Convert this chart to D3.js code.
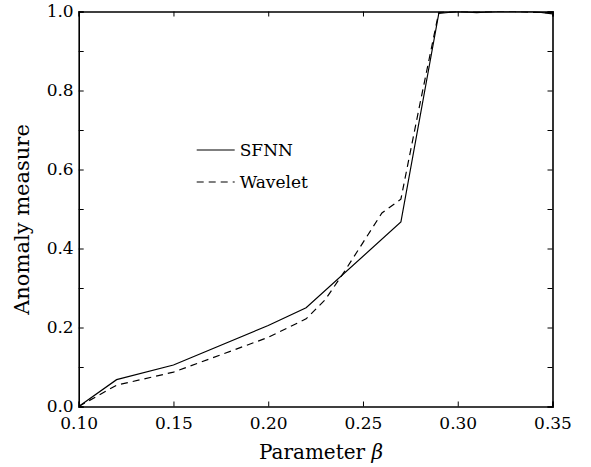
<!DOCTYPE html>
<html>
<head>
<meta charset="utf-8">
<script src="https://cdn.jsdelivr.net/npm/d3@7"></script>
<style>
  body { margin: 0; background: #fff; }
  text { font-family: "DejaVu Serif", serif; fill: #000; }
</style>
</head>
<body>
<div id="chart"></div>
<script>
// beta values and the two curves
var betaSFNN = [0.10, 0.12, 0.15, 0.20, 0.22, 0.27, 0.29, 0.30, 0.31, 0.32, 0.33, 0.34, 0.35];
var sfnn = [0.0, 0.068, 0.105, 0.205, 0.25, 0.467, 0.995, 1.0, 0.997, 1.0, 1.0, 1.0, 0.994];
var betaWavelet = [0.10, 0.12, 0.15, 0.20, 0.22, 0.23, 0.24, 0.25, 0.26, 0.27, 0.28, 0.29, 0.30, 0.31, 0.32, 0.33, 0.34, 0.35];
var wavelet = [0.0, 0.054, 0.087, 0.175, 0.222, 0.27, 0.34, 0.415, 0.49, 0.525, 0.765, 0.998, 1.0, 0.999, 1.0, 1.0, 0.998, 0.997];
var xTicks = [0.10, 0.15, 0.20, 0.25, 0.30, 0.35];
var yTicks = [0.0, 0.1, 0.2, 0.3, 0.4, 0.5, 0.6, 0.7, 0.8, 0.9, 1.0];
var legendNames = ["SFNN", "Wavelet"];

var margin = { top: 11.5, right: 38.5, bottom: 60.5, left: 78.7 },
  width = 591 - margin.left - margin.right,
  height = 467 - margin.top - margin.bottom;

var svg = d3
  .select("#chart")
  .append("svg")
  .attr("width", 591)
  .attr("height", 467)
  .append("g")
  .attr("transform", "translate(" + margin.left + "," + margin.top + ")");

var x = d3.scaleLinear().domain([0.10, 0.35]).range([0, width]);
var y = d3.scaleLinear().domain([0, 1]).range([height, 0]);

// ticks point inwards on all four sides
svg
  .append("g")
  .attr("transform", "translate(0," + height + ")")
  .attr("class", "x axis")
  .call(d3.axisBottom(x).tickValues(xTicks).tickSize(-5).tickPadding(10).tickFormat(d3.format(".2f")));
svg
  .append("g")
  .attr("class", "x axis top")
  .call(d3.axisTop(x).tickValues(xTicks).tickSize(-5).tickFormat(""));
svg
  .append("g")
  .attr("class", "y axis")
  .call(
    d3.axisLeft(y).tickValues(yTicks).tickSize(-5).tickPadding(5)
      .tickFormat(function (d) {
        return Math.round(d * 10) % 2 === 0 ? d3.format(".1f")(d) : "";
      })
  );
svg
  .append("g")
  .attr("class", "y axis right")
  .attr("transform", "translate(" + width + ",0)")
  .call(d3.axisRight(y).tickValues(yTicks).tickSize(-5).tickFormat(""));

svg.selectAll(".axis path").attr("stroke", "#000").attr("stroke-width", 1.6);
svg.selectAll(".axis line").attr("stroke", "#000").attr("stroke-width", 1);
svg.selectAll(".axis text").style("font-size", "17px").attr("fill", "#000");

// axis labels
svg
  .append("text")
  .attr("transform", "rotate(-90)")
  .attr("x", -208)
  .attr("y", -50)
  .style("text-anchor", "middle")
  .style("font-size", "21px")
  .text("Anomaly measure");

var xl = svg
  .append("text")
  .attr("x", 321 - margin.left)
  .attr("y", height + 52.5)
  .style("text-anchor", "middle")
  .style("font-size", "20px");
xl.append("tspan").text("Parameter ");
xl.append("tspan").style("font-style", "italic").text("\u03b2");

// curves
var line = d3
  .line()
  .x(function (d) { return x(d[0]); })
  .y(function (d) { return y(d[1]); });

svg.append("clipPath").attr("id", "clip").append("rect")
  .attr("width", width).attr("height", height);

var glines = svg.append("g").attr("clip-path", "url(#clip)");
glines
  .append("path")
  .attr("fill", "none")
  .attr("stroke", "#000")
  .attr("stroke-width", 1.2)
  .attr("d", line(d3.zip(betaSFNN, sfnn)));
glines
  .append("path")
  .attr("fill", "none")
  .attr("stroke", "#000")
  .attr("stroke-width", 1.2)
  .attr("stroke-dasharray", "7,5")
  .attr("d", line(d3.zip(betaWavelet, wavelet)));

// legend
var legend = svg.append("g").attr("transform", "translate(118,138.5)");
legend
  .selectAll("line")
  .data(legendNames)
  .enter()
  .append("line")
  .attr("x1", 0)
  .attr("x2", 38)
  .attr("y1", function (d, i) { return i * 32; })
  .attr("y2", function (d, i) { return i * 32; })
  .attr("stroke", "#000")
  .attr("stroke-width", 1.2)
  .attr("stroke-dasharray", function (d, i) { return i === 1 ? "7,5" : null; });
legend
  .selectAll("text")
  .data(legendNames)
  .enter()
  .append("text")
  .attr("x", 43)
  .attr("y", function (d, i) { return i * 32; })
  .attr("dy", "0.35em")
  .style("font-size", "17px")
  .text(function (d) { return d; });
</script>
</body>
</html>
